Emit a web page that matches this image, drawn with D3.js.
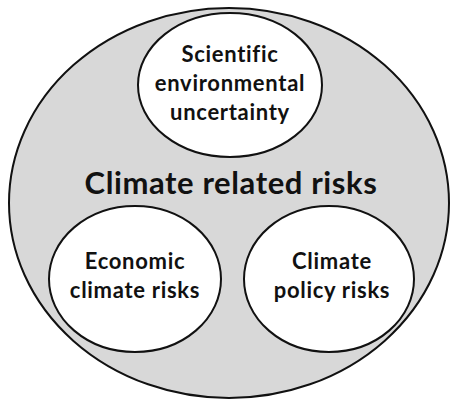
<!DOCTYPE html>
<html lang="en">
<head>
  <meta charset="utf-8">
  <title>Climate related risks</title>
  <script src="https://d3js.org/d3.v7.min.js"></script>
  <style>
    body { margin: 0; background: #fff; }
    text { font-family: Lato, "Open Sans", sans-serif; font-weight: bold; fill: #111;
           font-variant-ligatures: none; }
  </style>
</head>
<body>
<svg width="450" height="401"></svg>
<script>
  // labels
  var outerLabel = "Climate related risks";
  var circleNames = ["science", "economic", "policy"];
  var circleLabels = [
    ["Scientific", "environmental", "uncertainty"],
    ["Economic", "climate risks"],
    ["Climate", "policy risks"]
  ];

  var svg = d3.select("svg");

  // layout (pixels)
  var outer = {cx: 229, cy: 203, rx: 220, ry: 195};
  var cx = d3.scaleOrdinal().domain(circleNames).range([230, 135, 329]);
  var cy = d3.scaleOrdinal().domain(circleNames).range([85, 279, 279]);
  var rx = d3.scaleOrdinal().domain(circleNames).range([92, 86, 85]);
  var ry = d3.scaleOrdinal().domain(circleNames).range([72, 73, 73]);
  var firstBaseline = d3.scaleOrdinal().domain(circleNames).range([62, 269, 269]);
  var lineHeight = 29;

  svg.append("ellipse")
      .attr("cx", outer.cx).attr("cy", outer.cy)
      .attr("rx", outer.rx).attr("ry", outer.ry)
      .attr("fill", "#d8d8d8")
      .attr("stroke", "#111")
      .attr("stroke-width", 2);

  svg.append("text")
      .attr("x", outer.cx + 2)
      .attr("y", 194)
      .attr("text-anchor", "middle")
      .style("font-size", "31px")
      .style("letter-spacing", "0.6px")
      .text(outerLabel);

  var groups = svg.selectAll(".bubble")
      .data(circleNames)
      .enter().append("g")
      .attr("class", "bubble");

  groups.append("ellipse")
      .attr("cx", function(d) { return cx(d); })
      .attr("cy", function(d) { return cy(d); })
      .attr("rx", function(d) { return rx(d); })
      .attr("ry", function(d) { return ry(d); })
      .attr("fill", "#fff")
      .attr("stroke", "#111")
      .attr("stroke-width", 2);

  groups.each(function(d, i) {
    d3.select(this).selectAll("text")
        .data(circleLabels[i])
        .enter().append("text")
        .attr("x", cx(d) + (i === 2 ? 3 : 0))
        .attr("y", function(t, j) { return firstBaseline(d) + j * lineHeight; })
        .attr("text-anchor", "middle")
        .style("font-size", "22px")
        .style("letter-spacing", "0.7px")
        .text(function(t) { return t; });
  });
</script>
</body>
</html>
